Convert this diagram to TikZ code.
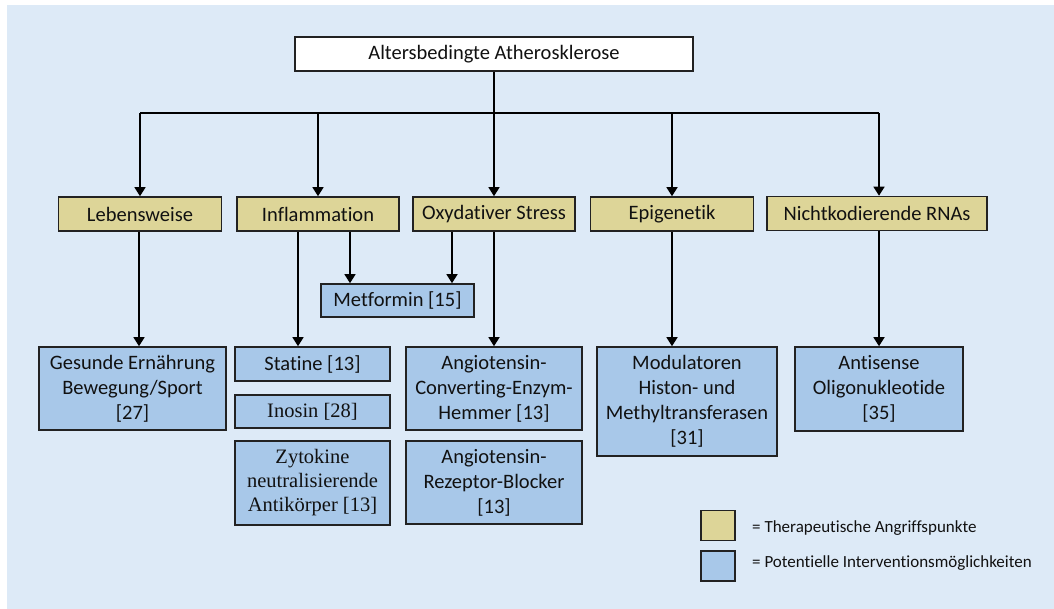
\documentclass[tikz,border=0pt]{standalone}
\usepackage{fontspec}
\setmainfont{Carlito}[Ligatures=NoCommon]
\newfontfamily\timesfont{Liberation Serif}
\usetikzlibrary{arrows.meta}
\definecolor{panelbg}{HTML}{DDEAF7}
\definecolor{targetfill}{HTML}{DDD598}
\definecolor{interfill}{HTML}{A8C8E9}
\definecolor{edgecol}{HTML}{222222}
\definecolor{txtcol}{HTML}{111111}
\begin{document}
\begin{tikzpicture}[x=1pt,y=-1pt,
  base/.style={draw=edgecol, line width=1.6pt, inner sep=0pt, align=center,
    text=txtcol, font=\fontsize{20.5}{25}\selectfont, anchor=center},
  target/.style={base, fill=targetfill, minimum height=34pt},
  inter/.style={base, fill=interfill},
  serifinter/.style={inter, font=\fontsize{20.5}{24}\selectfont\timesfont},
  topbox/.style={base, fill=white},
  legsq/.style={base, minimum width=34pt, minimum height=30pt},
  legtxt/.style={anchor=west, inner sep=0pt, text=txtcol, font=\fontsize{17}{20}\selectfont},
  conn/.style={draw=black, line width=1.4pt},
  arr/.style={conn, -{Triangle[width=11pt,length=9pt]}}]

\path[use as bounding box] (0,0) rectangle (1054,609);
\fill[panelbg] (7,5) rectangle (1054,609);

% top
\node[topbox, minimum width=398pt, minimum height=34pt] (top) at (494,54) {Altersbedingte Atherosklerose};

% targets
\node[target, minimum width=163pt] (leb) at (140,214) {Lebensweise};
\node[target, minimum width=162pt] (inf) at (318,214) {Inflammation};
\node[target, minimum width=162pt] (oxy) at (494,214) {Oxydativer Stress};
\node[target, minimum width=163pt] (epi) at (672,214) {Epigenetik};
\node[target, minimum width=220pt] (rna) at (877,213.5) {Nichtkodierende RNAs};

% interventions
\node[inter, minimum width=153pt, minimum height=33pt] (met) at (397.5,300.5) {Metformin [15]};
\node[inter, minimum width=187pt, minimum height=83pt] (ges) at (132.5,388.5) {Gesunde Ernährung\\Bewegung/Sport\\{}[27]};
\node[inter, minimum width=155pt, minimum height=34pt] (sta) at (312.5,364) {Statine [13]};
\node[serifinter, minimum width=155pt, minimum height=33pt] (ino) at (312.5,411.5) {Inosin [28]};
\node[serifinter, minimum width=155pt, minimum height=84pt] (zyt) at (312.5,483) {Zytokine\\neutralisierende\\Antikörper [13]};
\node[inter, minimum width=176pt, minimum height=83pt] (ace) at (494,388.5) {Angiotensin-\\Converting-Enzym-\\Hemmer [13]};
\node[inter, minimum width=176pt, minimum height=83pt] (arb) at (494,482.5) {Angiotensin-\\Rezeptor-Blocker\\{}[13]};
\node[inter, minimum width=180pt, minimum height=109pt] (mod) at (687,401.5) {Modulatoren\\Histon- und\\Methyltransferasen\\{}[31]};
\node[inter, minimum width=168pt, minimum height=84pt] (ant) at (879,389) {Antisense\\Oligonukleotide\\{}[35]};

% connectors from top
\coordinate (bar) at (494,113);
\draw[conn] (top.south) -- (bar);
\draw[conn] (leb.north |- bar) -- (ant.north |- bar);
\draw[arr] (leb.north |- bar) -- (leb.north);
\draw[arr] (inf.north |- bar) -- (inf.north);
\draw[arr] (bar) -- (oxy.north);
\draw[arr] (epi.north |- bar) -- (epi.north);
\draw[arr] (ant.north |- bar) -- (ant.north |- rna.north);

% connectors to interventions
\draw[arr] ([xshift=-1pt]leb.south) -- ([xshift=-1pt]leb.south |- ges.north);
\draw[arr] ([xshift=-20pt]inf.south) -- ([xshift=-20pt]inf.south |- sta.north);
\draw[arr] ([xshift=32pt]inf.south) -- ([xshift=32pt]inf.south |- met.north);
\draw[arr] ([xshift=-42pt]oxy.south) -- ([xshift=-42pt]oxy.south |- met.north);
\draw[arr] (oxy.south) -- (ace.north);
\draw[arr] (epi.south) -- (epi.south |- mod.north);
\draw[arr] (ant.north |- rna.south) -- (ant.north);

% legend
\node[legsq, fill=targetfill] (legt) at (718,525.5) {};
\node[legsq, fill=interfill] (legi) at (718,566) {};
\node[legtxt] (legtt) at (752,528) {= Therapeutische Angriffspunkte};
\node[legtxt] (legit) at (752,563) {= Potentielle Interventionsmöglichkeiten};
\end{tikzpicture}
\end{document}
